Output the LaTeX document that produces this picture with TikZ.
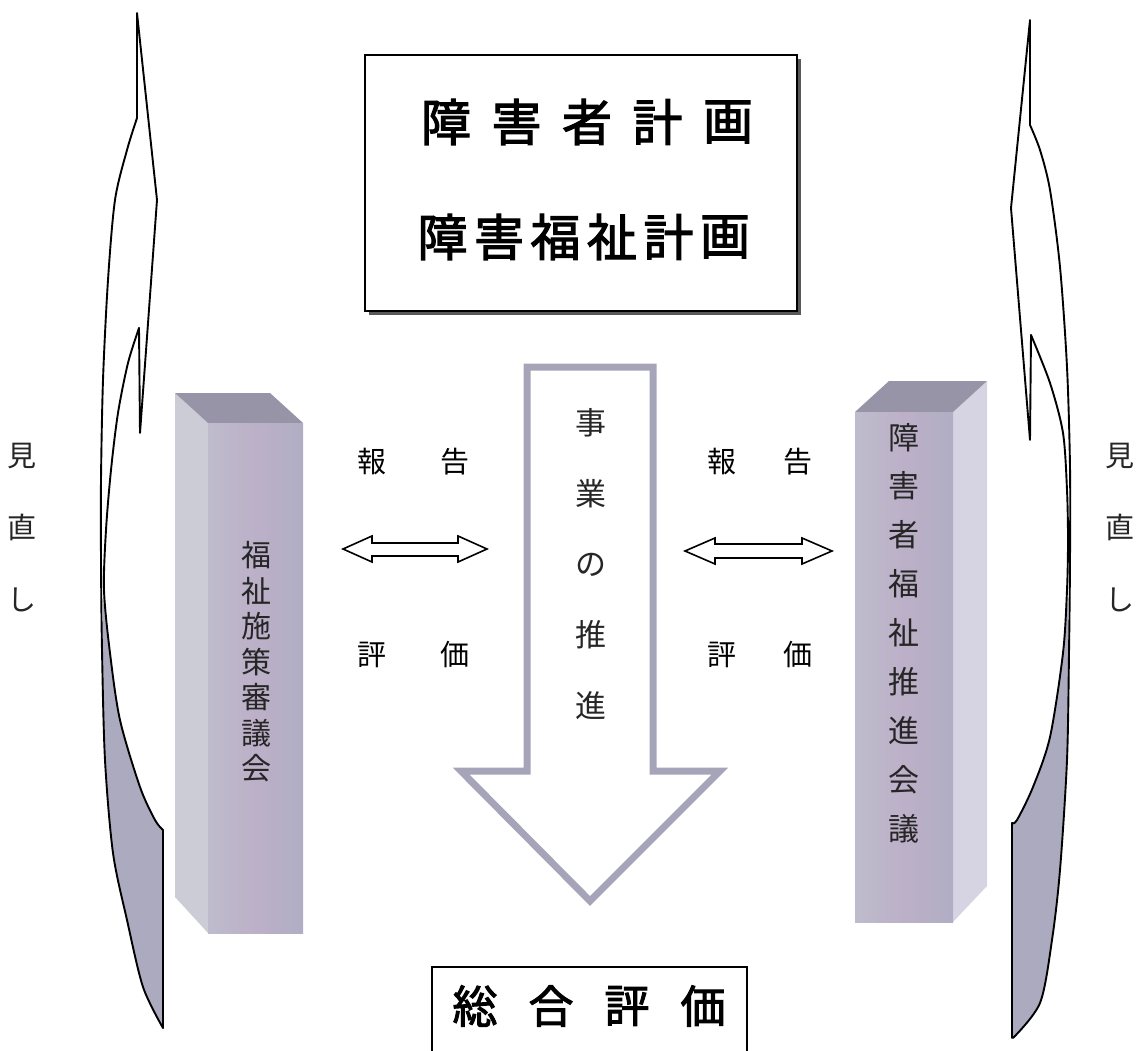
\documentclass[tikz,border=0pt]{standalone}
\usepackage{fontspec}
\newfontfamily\jp{Noto Sans CJK JP}
\newfontfamily\jpb{Noto Sans CJK JP}[FakeBold=2.2]
\definecolor{bandgray}{RGB}{172,170,190}
\definecolor{arrowline}{RGB}{166,164,184}
\definecolor{pilTop}{RGB}{150,148,166}
\definecolor{pilSideL}{RGB}{204,204,214}
\definecolor{pilSideR}{RGB}{214,212,226}
\definecolor{pilA}{RGB}{190,188,204}
\definecolor{pilB}{RGB}{188,176,200}
\definecolor{pilC}{RGB}{176,174,196}
\begin{document}
\begin{tikzpicture}[x=1pt,y=-1pt,
  outl/.style={draw=black,line width=1.9pt,line join=round,line cap=round},
  bigch/.style={font=\jpb\fontsize{50}{50}\selectfont,inner sep=0pt},
  sumch/.style={font=\jpb\fontsize{45}{45}\selectfont,inner sep=0pt},
  lab/.style={font=\jp\fontsize{29}{29}\selectfont,inner sep=0pt},
  vtext/.style={align=center,inner sep=0pt,text=black!85}
]
\useasboundingbox (0,0) rectangle (1136,1051);

% ---------- left curved arrow ----------
\fill[bandgray] plot[smooth] coordinates {(104,590)(102,650)(105,760)(113,853)(127,920)(143,987)(163,1028)}
  -- (163,830) -- plot[smooth] coordinates {(158,826)(140,787)(120,720)(110,653)(104,590)} -- cycle;
\draw[outl] plot[smooth] coordinates {(137,118)(127,150)(115,200)(108,280)(103,380)(101,480)(101,560)(102,650)(105,760)(113,853)(127,920)(143,987)(163,1028)};
\draw[outl] (137,118) -- (137,13) -- (157,200) -- (140,433) -- (139,328);
\draw[outl] plot[smooth] coordinates {(139,328)(128,363)(118,413)(111,470)(106,530)(104,590)(110,653)(120,720)(140,787)(155,820)(163,830)};
\draw[outl] (163,830) -- (163,1028);

% ---------- right curved arrow ----------
\fill[bandgray] plot[smooth] coordinates {(1067,590)(1069,653)(1067,760)(1060,870)(1052,940)(1040,1003)(1013,1038)}
  -- (1012,823) -- plot[smooth] coordinates {(1017,820)(1033,787)(1050,737)(1063,653)(1067,590)} -- cycle;
\draw[outl] plot[smooth] coordinates {(1030,125)(1040,150)(1050,190)(1060,267)(1067,367)(1070,467)(1070,560)(1069,653)(1067,760)(1060,870)(1052,940)(1040,1003)(1013,1038)};
\draw[outl] (1030,125) -- (1030,20) -- (1011,208) -- (1030,440) -- (1031,335);
\draw[outl] plot[smooth] coordinates {(1031,335)(1050,383)(1063,433)(1067,490)(1068,540)(1067,590)(1063,653)(1050,737)(1033,787)(1017,820)(1012,823)};
\draw[outl] (1012,823) -- (1012,1038);

% ---------- 見直し ----------
\node[vtext,font=\jp\fontsize{29}{72}\selectfont] (mnL) at (22,528) {見\\直\\し};
\node[vtext,font=\jp\fontsize{29}{72}\selectfont] (mnR) at (1120,528) {見\\直\\し};

% ---------- top box ----------
\fill[black!65] (369,59) rectangle (801,315);
\draw[line width=1.8pt,fill=white] (365,55) rectangle (797,311);
\foreach \c [count=\i from 0] in {障,害,者,計,画}
  \node[bigch] (ta\i) at (446+70.5*\i,122) {\c};
\foreach \c [count=\i from 0] in {障,害,福,祉,計,画}
  \node[bigch] (tb\i) at (442.5+56.5*\i,237) {\c};

% ---------- left pillar ----------
\fill[pilSideL] (175,393) -- (208,423) -- (208,933) -- (175,897) -- cycle;
\fill[pilTop] (175,393) -- (270,393) -- (303,423) -- (208,423) -- cycle;
\shade[left color=pilA,right color=pilC,middle color=pilB] (208,423) rectangle (303,933);
\node[vtext,font=\jp\fontsize{30}{35.5}\selectfont] (lp) at (256,662) {福\\祉\\施\\策\\審\\議\\会};

% ---------- right pillar ----------
\fill[pilSideR] (953,412) -- (987,381) -- (987,886) -- (953,922) -- cycle;
\fill[pilTop] (889,381) -- (987,381) -- (953,412) -- (855,412) -- cycle;
\shade[left color=pilA,right color=pilC,middle color=pilB] (855,412) rectangle (953,922);
\node[vtext,font=\jp\fontsize{31}{48.9}\selectfont] (rp) at (904,633) {障\\害\\者\\福\\祉\\推\\進\\会\\議};

% ---------- central arrow ----------
\draw[draw=arrowline,line width=7pt,line join=miter,fill=white]
  (527,367) -- (653,367) -- (653,771) -- (720,771) -- (590,901) -- (461,771) -- (527,771) -- cycle;
\node[vtext,font=\jp\fontsize{31}{70.75}\selectfont] (ct) at (591,564) {事\\業\\の\\推\\進};

% ---------- labels ----------
\node[lab] (lr1) at (372,462) {報};
\node[lab] (lr2) at (455,462) {告};
\node[lab] (le1) at (372,655) {評};
\node[lab] (le2) at (455,655) {価};
\node[lab] (rr1) at (722,462) {報};
\node[lab] (rr2) at (798,462) {告};
\node[lab] (re1) at (722,655) {評};
\node[lab] (re2) at (798,655) {価};

% ---------- double arrows ----------
\draw[line width=1.6pt,line join=miter,fill=white]
  (343,549) -- (372,536) -- (372,543) -- (458,543) -- (458,536) -- (487,549)
  -- (458,562) -- (458,556) -- (372,556) -- (372,562) -- cycle;
\draw[line width=1.6pt,line join=miter,fill=white]
  (685,551) -- (715,538) -- (715,544) -- (802,544) -- (802,538) -- (832,551)
  -- (802,564) -- (802,558) -- (715,558) -- (715,564) -- cycle;

% ---------- bottom box ----------
\draw[line width=1.8pt] (432,1060) -- (432,967) -- (747,967) -- (747,1060);
\foreach \c [count=\i from 0] in {総,合,評,価}
  \node[sumch] (sb\i) at (475+76*\i,1006) {\c};
\end{tikzpicture}
\end{document}
